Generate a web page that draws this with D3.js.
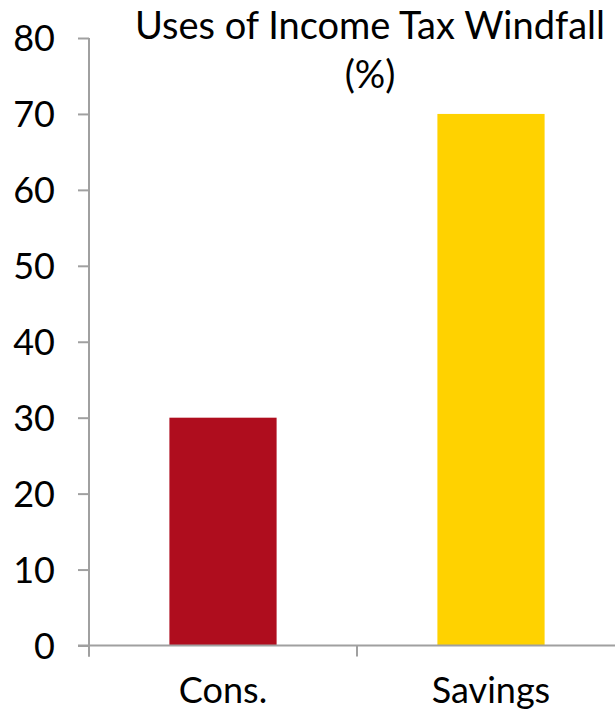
<!DOCTYPE html>
<html><head><meta charset="utf-8">
<script src="https://cdn.jsdelivr.net/npm/d3@7"></script>
<style>body{margin:0;background:#fff}svg{display:block}</style>
</head><body>
<svg id="c" width="615" height="712"></svg>
<script>
const categories = ["Cons.", "Savings"];
const values = [30, 70];
const barColors = ["#AF0D1E", "#FFD200"];
const yTicks = [0, 10, 20, 30, 40, 50, 60, 70, 80];
const titleLines = ["Uses of Income Tax Windfall", "(%)"];

const svg = d3.select("#c");
const font = "Lato, 'Open Sans', sans-serif";
const axisColor = "#a0a0a0";

const x = d3.scaleBand().domain(categories).range([89, 625]).paddingInner(0.6).paddingOuter(0.3);
const y = d3.scaleLinear().domain([0, 80]).range([645.5, 38]);

// bars
svg.append("g").selectAll("rect").data(categories).join("rect")
  .attr("x", d => x(d)).attr("width", x.bandwidth())
  .attr("y", (d, i) => y(values[i])).attr("height", (d, i) => y(0) - y(values[i]))
  .attr("fill", (d, i) => barColors[i]);

// y axis
const ya = svg.append("g").attr("transform", "translate(89,0)")
  .call(d3.axisLeft(y).tickValues(yTicks).tickSize(11).tickSizeOuter(0).tickPadding(23));
ya.select(".domain").remove();
ya.selectAll(".tick line").attr("stroke", axisColor).attr("stroke-width", 2);
ya.selectAll(".tick text").attr("font-family", font).attr("font-size", 36).attr("fill", "#000").attr("dy", "0.35em");
svg.append("line").attr("x1", 89).attr("x2", 89).attr("y1", y(80)).attr("y2", y(0) + 11)
  .attr("stroke", axisColor).attr("stroke-width", 2);

// x axis
svg.append("line").attr("x1", 78).attr("x2", 615).attr("y1", y(0)).attr("y2", y(0))
  .attr("stroke", axisColor).attr("stroke-width", 2);
const bounds = [89, 89 + x.step(), 89 + 2 * x.step()];
svg.append("g").selectAll("line").data(bounds).join("line")
  .attr("x1", d => d).attr("x2", d => d).attr("y1", y(0)).attr("y2", y(0) + 11)
  .attr("stroke", axisColor).attr("stroke-width", 2);
svg.append("g").selectAll("text").data(categories).join("text")
  .attr("x", d => x(d) + x.bandwidth() / 2).attr("y", 703)
  .attr("text-anchor", "middle").attr("font-family", font).attr("font-size", 36).attr("fill", "#000")
  .text(d => d);

// title
svg.append("g").selectAll("text").data(titleLines).join("text")
  .attr("x", 370).attr("y", (d, i) => 39 + i * 49)
  .attr("text-anchor", "middle").attr("font-family", font).attr("font-size", 38).attr("fill", "#000")
  .text(d => d);
</script>
</body></html>
